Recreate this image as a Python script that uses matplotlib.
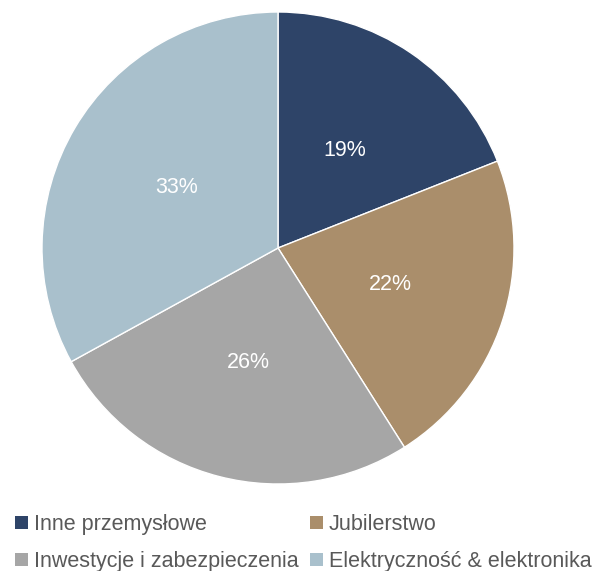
import matplotlib

matplotlib.use("Agg")
import matplotlib.pyplot as plt
from matplotlib.patches import Patch

plt.rcParams["font.family"] = ["Liberation Sans", "DejaVu Sans"]

categories = ["Inne przemysłowe", "Jubilerstwo", "Inwestycje i zabezpieczenia", "Elektryczność & elektronika"]
shares = [19, 22, 26, 33]
colors = ["#2E4468", "#AA8E6B", "#A6A6A6", "#A9C0CC"]

W, H = 595, 571
fig = plt.figure(figsize=(W / 100, H / 100), dpi=100)
cx, cy, r = 278, 248, 236
ax = fig.add_axes([(cx - r) / W, (H - cy - r) / H, 2 * r / W, 2 * r / H])
ax.pie(
    shares,
    colors=colors,
    startangle=90,
    counterclock=False,
    autopct="%d%%",
    pctdistance=0.5,
    wedgeprops={"edgecolor": "white", "linewidth": 1},
    textprops={"color": "white", "fontsize": 15.5},
    radius=1.0,
)
ax.set_xlim(-1, 1)
ax.set_ylim(-1, 1)
ax.set_aspect("equal")
ax.axis("off")

# legend is filled column by column, so reorder to read row by row
order = [0, 2, 1, 3]
handles = [Patch(facecolor=colors[i], edgecolor="none") for i in order]
labels = [categories[i] for i in order]
fig.legend(
    handles,
    labels,
    loc="upper left",
    bbox_to_anchor=(0.025, 1 - 514 / H),
    ncol=2,
    frameon=False,
    fontsize=15.5,
    labelcolor="#595959",
    handlelength=0.6,
    handleheight=0.6,
    handletextpad=0.3,
    columnspacing=0.5,
    labelspacing=0.75,
    borderaxespad=0,
    borderpad=0,
)

fig.savefig("out.png", dpi=100)
